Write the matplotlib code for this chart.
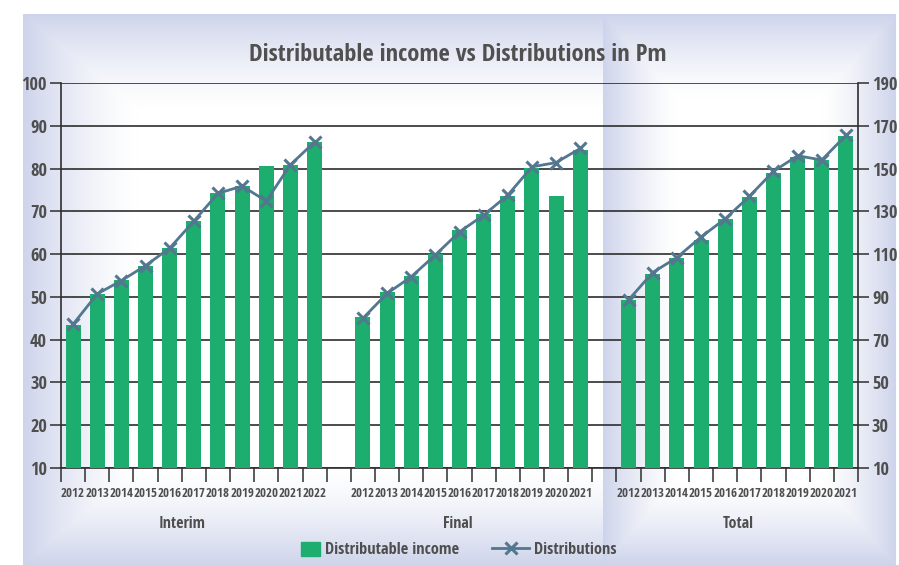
import os
import numpy as np
import matplotlib
matplotlib.use('Agg')
import matplotlib.pyplot as plt
import matplotlib.patches as mpatches
import matplotlib.font_manager as fm
import matplotlib.transforms as mtrans
from matplotlib.lines import Line2D
from matplotlib.textpath import TextPath
from matplotlib.legend_handler import HandlerPatch

# data (Pm)
years_interim = ['2012', '2013', '2014', '2015', '2016', '2017', '2018', '2019', '2020', '2021', '2022']
years_final = ['2012', '2013', '2014', '2015', '2016', '2017', '2018', '2019', '2020', '2021']
years_total = ['2012', '2013', '2014', '2015', '2016', '2017', '2018', '2019', '2020', '2021']

interim_income = [43.4, 50.7, 53.9, 57.2, 61.4, 67.7, 74.2, 75.9, 80.7, 80.9, 86.2]
interim_dist = [43.6, 50.7, 53.8, 57.3, 61.4, 67.7, 74.2, 75.9, 72.4, 80.9, 86.2]
final_income = [45.2, 51.2, 54.9, 60.0, 65.6, 69.4, 73.6, 80.1, 73.6, 84.3]
final_dist = [45.0, 50.8, 54.7, 59.8, 65.2, 69.1, 73.8, 80.4, 81.4, 84.7]
# totals use the right hand axis
total_income = [88.6, 100.9, 108.1, 116.8, 126.6, 136.8, 147.7, 155.6, 154.2, 165.0]
total_dist = [88.6, 101.4, 108.4, 118.0, 126.5, 137.0, 148.7, 156.0, 154.0, 165.5]

groups = ['Interim', 'Final', 'Total']
group_label_x = [5.0, 16.45, 28.05]

W, H = 899, 565
GREEN = '#1dad6e'
LINE = '#52778f'
TXT = '#4e4e4e'
DARK = '#2e2e2e'


def pick_font():
    files = [f.fname for f in fm.fontManager.ttflist]
    base = [os.path.basename(p).lower() for p in files]
    wanted = ['notosans-extracondensedbold.', 'notosans-condensedbold.',
              'liberationsansnarrow-bold.', 'opensans-condbold.',
              'opensans_condensed-bold.', 'dejavusanscondensed-bold.',
              'notosans-semicondensedbold.']
    for key in wanted:
        for p, b in zip(files, base):
            if b.startswith(key):
                return p
    for p, b in zip(files, base):
        if ('cond' in b or 'narrow' in b) and 'bold' in b and 'italic' not in b and 'mono' not in b:
            return p
    return None


FONT_FILE = pick_font()


def fp(size):
    if FONT_FILE:
        return fm.FontProperties(fname=FONT_FILE, size=size)
    return fm.FontProperties(family='DejaVu Sans', weight='bold', size=size)


def fit(s, px, cap=None):
    # font size (pt) that makes s about px pixels wide (and at most cap pt)
    w = TextPath((0, 0), s, size=10, prop=fp(10)).get_extents().width
    size = 10 * px / (w * 100 / 72)
    return min(size, cap) if cap else size


def panel(img, x0, x1, y0, y1, lx, ly, lav):
    xs = np.arange(x0, x1)
    ys = np.arange(y0, y1)
    fx = np.clip(1 - np.minimum(xs - x0, x1 - 1 - xs) / lx, 0, 1)
    fy = np.clip(1 - np.minimum(ys - y0, y1 - 1 - ys) / ly, 0, 1)
    f = np.maximum(fx[None, :], fy[:, None]) ** 1.4
    img[y0:y1, x0:x1] = 1 - f[..., None] * (1 - lav)


fig = plt.figure(figsize=(W / 100, H / 100), dpi=100)

# background: two lavender "from centre" gradient panels
lav = np.array([206, 212, 235]) / 255
img = np.ones((H, W, 3))
panel(img, 23, 896, 14, H, 115, 95, lav)
panel(img, 603, 896, 14, H, 75, 85, lav)
bg = fig.add_axes([0, 0, 1, 1])
bg.imshow(img, aspect='auto', extent=(0, 1, 0, 1), interpolation='bilinear')
bg.axis('off')

# slot layout: Interim, gap, Final, gap, Total
off_final = len(years_interim) + 1
off_total = off_final + len(years_final) + 1
nslots = off_total + len(years_total)
x_int = np.arange(len(years_interim)) + 0.5
x_fin = np.arange(len(years_final)) + off_final + 0.5
x_tot = np.arange(len(years_total)) + off_total + 0.5

ax = fig.add_axes([61 / W, 1 - 468 / H, (858 - 61) / W, (468 - 83) / H])
ax.set_facecolor('none')
ax.set_xlim(0, nslots)
ax.set_ylim(10, 100)
ax.set_yticks(range(10, 101, 10))
ax.grid(axis='y', color=DARK, lw=1.2)
ax.set_axisbelow(True)

ax2 = ax.twinx()
ax2.set_ylim(10, 190)
ax2.set_yticks(range(10, 191, 20))

bw = 0.62
mk = dict(color=LINE, lw=2, marker='x', ms=8, mew=2.2, zorder=4)
ax.bar(x_int, interim_income, width=bw, color=GREEN, zorder=3)
ax.bar(x_fin, final_income, width=bw, color=GREEN, zorder=3)
ax.plot(x_int, interim_dist, **mk)
ax.plot(x_fin, final_dist, **mk)
ax2.bar(x_tot, total_income, width=bw, color=GREEN, zorder=3)
ax2.plot(x_tot, total_dist, **mk)

for s in ['top', 'right']:
    ax.spines[s].set_visible(False)
for s in ['top', 'left', 'bottom']:
    ax2.spines[s].set_visible(False)
for a in (ax, ax2):
    for s in a.spines.values():
        s.set_color(DARK)
        s.set_linewidth(1.2)

ax.set_xticks(np.arange(nslots + 1))
ax.set_xticklabels([])
ax.set_xticks(np.concatenate([x_int, x_fin, x_tot]), minor=True)
ax.set_xticklabels(years_interim + years_final + years_total, minor=True)
ax.tick_params(axis='x', which='major', length=10, width=1.1, color=DARK)
ax.tick_params(axis='x', which='minor', length=0, pad=14, labelcolor=TXT)
ax.tick_params(axis='y', length=8, width=1.1, pad=2, color=DARK, labelcolor=TXT)
ax2.tick_params(axis='y', length=8, width=1.1, pad=2, color=DARK, labelcolor=TXT)

year_fp = fp(fit('2012', 23, cap=13))
ytick_fp = fp(fit('100', 24, cap=15))
for lab in ax.get_xticklabels(minor=True):
    lab.set_fontproperties(year_fp)
for lab in ax.get_yticklabels() + ax2.get_yticklabels():
    lab.set_fontproperties(ytick_fp)

grp_fp = fp(fit('Interim', 45, cap=15))
tr = mtrans.blended_transform_factory(ax.transData, fig.transFigure)
for gx, name in zip(group_label_x, groups):
    ax.text(gx, 1 - 524 / H, name, transform=tr, ha='center', va='center',
            fontproperties=grp_fp, color=TXT)

title = 'Distributable income vs Distributions in Pm'
fig.text(458 / W, 1 - 55 / H, title, ha='center', va='center',
         fontproperties=fp(fit(title, 413, cap=22)), color='#505050')


def box(legend, orig_handle, xdescent, ydescent, width, height, fontsize):
    w = height * 1.4
    return mpatches.Rectangle((width - w - xdescent, -ydescent), w, height)


# legend spacing given in pixels, turned into font-size units
leg_size = fit('Distributable income', 132, cap=15)
em = leg_size * 100 / 72
handles = [mpatches.Patch(color=GREEN),
           Line2D([], [], color=LINE, lw=2, marker='x', ms=8, mew=2.2)]
fig.legend(handles, ['Distributable income', 'Distributions'], loc='center',
           bbox_to_anchor=(450 / W, 1 - 550 / H), ncol=2, frameon=False,
           prop=fp(leg_size), labelcolor=TXT,
           handlelength=37 / em, handleheight=15 / em, handletextpad=5 / em,
           columnspacing=33 / em, borderpad=0,
           handler_map={mpatches.Patch: HandlerPatch(patch_func=box)})

fig.savefig('out.png', dpi=100)
